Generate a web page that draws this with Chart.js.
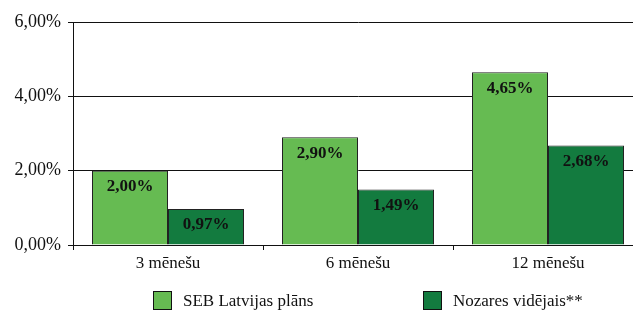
<!DOCTYPE html>
<html>
<head>
<meta charset="utf-8">
<script src="https://cdn.jsdelivr.net/npm/chart.js@4.4.1/dist/chart.umd.min.js"></script>
<style>
  html, body { margin: 0; padding: 0; background: #fff; overflow: hidden; }
  #wrap { width: 650px; height: 312px; }
</style>
</head>
<body>
<div id="wrap"><canvas id="mycanvas" width="650" height="312"></canvas></div>
<script>
// chart data
var categories = ['3 mēnešu', '6 mēnešu', '12 mēnešu'];
var sebValues = [2.00, 2.90, 4.65];
var nozaresValues = [0.97, 1.49, 2.68];
var seriesNames = ['SEB Latvijas plāns', 'Nozares vidējais**'];
var yTicks = [0, 2, 4, 6];

var FONT = '"Liberation Serif", "DejaVu Serif", serif';

function pct(v) {
    return v.toFixed(2).replace('.', ',') + '%';
}

// bold value labels inside the top of each bar
var valueLabels = {
    id: 'valueLabels',
    afterDatasetsDraw: function(chart) {
        var ctx = chart.ctx;
        ctx.save();
        ctx.font = 'bold 17px ' + FONT;
        ctx.fillStyle = '#111';
        ctx.textAlign = 'center';
        ctx.textBaseline = 'middle';
        chart.data.datasets.forEach(function(ds, i) {
            chart.getDatasetMeta(i).data.forEach(function(bar, j) {
                ctx.fillText(pct(ds.data[j]), bar.x, bar.y + 16);
            });
        });
        ctx.restore();
    }
};

// legend under the axis, items placed like the original
var bottomLegend = {
    id: 'bottomLegend',
    afterDraw: function(chart, args, opts) {
        var ctx = chart.ctx;
        ctx.save();
        ctx.font = '17px ' + FONT;
        ctx.textBaseline = 'middle';
        ctx.textAlign = 'left';
        chart.data.datasets.forEach(function(ds, i) {
            var x = opts.xs[i];
            ctx.fillStyle = ds.backgroundColor;
            ctx.fillRect(x, opts.y, opts.box, opts.box);
            ctx.strokeStyle = '#111';
            ctx.lineWidth = 1;
            ctx.strokeRect(x + 0.5, opts.y + 0.5, opts.box - 1, opts.box - 1);
            ctx.fillStyle = '#111';
            ctx.fillText(ds.label, x + opts.box + 11, opts.y + opts.box / 2 + 1);
        });
        ctx.restore();
    }
};

var chartdata = {
    labels: categories,
    datasets: [
        {
            label: seriesNames[0],
            backgroundColor: '#66bb52',
            borderColor: '#222',
            borderWidth: 1,
            data: sebValues
        },
        {
            label: seriesNames[1],
            backgroundColor: '#137b3f',
            borderColor: '#222',
            borderWidth: 1,
            data: nozaresValues
        }
    ]
};

var ctx = document.getElementById('mycanvas');

var barGraph = new Chart(ctx, {
    type: 'bar',
    data: chartdata,
    plugins: [valueLabels, bottomLegend],
    options: {
        responsive: false,
        animation: false,
        devicePixelRatio: 1,
        layout: { padding: { top: 22, right: 7, left: 0, bottom: 0 } },
        datasets: {
            bar: { categoryPercentage: 0.8, barPercentage: 1.0 }
        },
        plugins: {
            legend: { display: false },
            tooltip: { enabled: false },
            bottomLegend: { xs: [153, 423], y: 291, box: 19 }
        },
        scales: {
            x: {
                afterFit: function(scale) { scale.height = 67; },
                grid: {
                    offset: true,
                    drawOnChartArea: false,
                    drawTicks: true,
                    tickLength: 5,
                    color: '#111'
                },
                border: { display: true, color: '#111', width: 1 },
                ticks: {
                    padding: 3,
                    color: '#111',
                    font: { family: FONT, size: 17 }
                }
            },
            y: {
                min: 0,
                max: 6,
                afterFit: function(scale) { scale.width = 73; },
                afterBuildTicks: function(scale) {
                    scale.ticks = yTicks.map(function(v) { return { value: v }; });
                },
                grid: {
                    color: '#111',
                    lineWidth: 1,
                    drawTicks: true,
                    tickLength: 5
                },
                border: { display: true, color: '#111', width: 1 },
                ticks: {
                    padding: 7,
                    color: '#111',
                    font: { family: FONT, size: 18 },
                    callback: function(v) { return pct(v); }
                }
            }
        }
    }
});
</script>
</body>
</html>
